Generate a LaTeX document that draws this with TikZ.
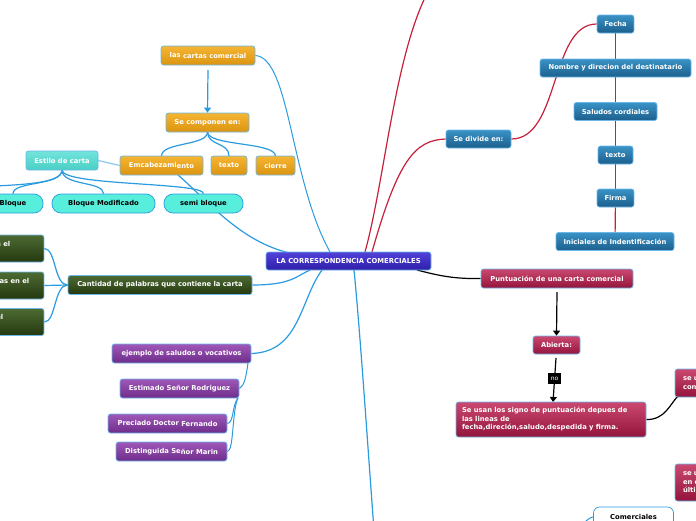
\documentclass[tikz,border=0pt]{standalone}
\usepackage{fontspec}
\setsansfont{DejaVu Sans}
\usetikzlibrary{arrows.meta}
\pgfdeclarelayer{bg}
\pgfsetlayers{bg,main}
\definecolor{orT}{HTML}{F5B533}\definecolor{orB}{HTML}{DB9410}
\definecolor{cyT}{HTML}{72E4DB}\definecolor{cyB}{HTML}{4ACFC5}
\definecolor{cyL}{HTML}{58EEDC}
\definecolor{grT}{HTML}{4E6B33}\definecolor{grB}{HTML}{24380F}
\definecolor{puT}{HTML}{A058B8}\definecolor{puB}{HTML}{6E2C8A}
\definecolor{maT}{HTML}{5242DA}\definecolor{maB}{HTML}{2E1EA8}
\definecolor{blT}{HTML}{3A92C6}\definecolor{blB}{HTML}{1B5F8C}
\definecolor{crT}{HTML}{CB4970}\definecolor{crB}{HTML}{93143C}
\definecolor{bord}{HTML}{6BB8E8}
\definecolor{lnblue}{HTML}{2B9BE0}
\definecolor{lnlight}{HTML}{8CC8EC}
\definecolor{lnred}{HTML}{C8203A}
\tikzset{
 box/.style={rounded corners=2.5pt, draw=bord, line width=0.7pt,
   font=\sffamily\bfseries\fontsize{6.8}{8.5}\selectfont, text=white,
   inner sep=0pt, minimum height=19pt, align=center},
 orangebox/.style={box, top color=orT, bottom color=orB},
 cyanbox/.style={box, top color=cyT, bottom color=cyB},
 pillbox/.style={box, rounded corners=9pt, fill=cyL, text=black, draw=lnblue},
 greenbox/.style={box, top color=grT, bottom color=grB},
 purplebox/.style={box, top color=puT, bottom color=puB},
 mainbox/.style={box, top color=maT, bottom color=maB, minimum height=18pt},
 bluebox/.style={box, top color=blT, bottom color=blB, minimum height=18pt},
 crimbox/.style={box, top color=crT, bottom color=crB},
 whitebox/.style={box, rounded corners=6pt, fill=white, text=black, draw=lnblue},
 frag/.style={font=\sffamily\bfseries\fontsize{6.8}{8.5}\selectfont, text=white, inner sep=0pt},
 bl/.style={draw=lnblue, line width=1.2pt},
 rd/.style={draw=lnred, line width=1.2pt},
 bk/.style={draw=black, line width=1.2pt},
 tip/.style={-{Triangle[width=7pt,length=5pt]}}
}
\begin{document}
\begin{tikzpicture}[x=1pt,y=-1pt]
\useasboundingbox (0,0) rectangle (696,520);
% main
\node[mainbox, minimum width=165pt] (main) at (348.5,261) {LA CORRESPONDENCIA COMERCIALES};
% orange
\node[orangebox, minimum width=94pt] (cartas) at (208,55.5) {\raisebox{1pt}{las} cartas comercial};
\node[orangebox, minimum width=83pt] (compon) at (207.5,122.5) {Se componen en:};
\node[orangebox, minimum width=83pt] (emcab) at (161.5,165.5) {Emcabezami\raisebox{-1.5pt}{ento}};
\node[orangebox, minimum width=36pt] (textoA) at (229,165.5) {texto};
\node[orangebox, minimum width=39pt] (cierre) at (275.5,165.5) {cierre};
% cyan
\node[cyanbox, minimum width=72pt] (estilo) at (62,160.5) {Estilo de carta};
\node[pillbox, minimum width=60pt] (bloque) at (13,203.5) {Bloque};
\node[pillbox, minimum width=103pt] (bmod) at (103.5,203.5) {Bloque Modificado};
\node[pillbox, minimum width=79pt] (semi) at (203.5,203.5) {semi bloque};
% green
\node[greenbox, minimum width=184pt] (cant) at (160,285) {Cantidad de palabras que contiene la carta};
\node[greenbox, minimum width=104pt, minimum height=27pt] (g1) at (-8,248.5) {};
\node[greenbox, minimum width=104pt, minimum height=27pt] (g2) at (-8,285.5) {};
\node[greenbox, minimum width=104pt, minimum height=27pt] (g3) at (-8,322) {};
\node[frag, anchor=base east] (g1t) at (10.5,246.5) {n el};
\node[frag, anchor=base east] (g2t) at (29.5,283.5) {as en el};
\node[frag, anchor=base east] (g3t) at (3.5,319) {el};
% purple
\node[purplebox, minimum width=139pt] (ejemplo) at (181.5,353.5) {ejemplo de saludos o vocativos};
\node[purplebox, minimum width=119pt] (estimado) at (179.5,388.5) {Estimado Señor Rodriguez};
\node[purplebox, minimum width=119pt] (preciado) at (167.5,423.5) {Preciado Doctor \raisebox{-1pt}{Fernando}};
\node[purplebox, minimum width=111pt] (disting) at (171.5,451.5) {Distinguida Se\raisebox{-1pt}{ñor Marin}};
% blue
\node[bluebox, minimum width=65pt] (divide) at (478.5,139) {Se divide en:};
\node[bluebox, minimum width=37pt] (fecha) at (615.5,24) {Fecha};
\node[bluebox, minimum width=151pt] (nombre) at (615.5,68) {Nombre y direcion del destinatario};
\node[bluebox, minimum width=83pt] (saludos) at (615.5,111.5) {Saludos cordiales};
\node[bluebox, minimum width=35pt] (textoB) at (615.5,155) {texto};
\node[bluebox, minimum width=37pt] (firma) at (615.5,198) {Firma};
\node[bluebox, minimum width=118pt] (inic) at (615,241.5) {Iniciales de Indentificación};
% crimson
\node[crimbox, minimum width=152pt] (punt) at (557,278.5) {Puntuación de una carta comercial};
\node[crimbox, minimum width=47pt, minimum height=18pt] (abierta) at (556.5,345) {Abierta:};
\node[crimbox, minimum width=190pt, minimum height=35pt, text width=178pt, align=left] (seusan) at (551,419.5) {Se usan los signo de puntuación depues de\\las lineas de\\fecha,direción,saludo,despedida y firma.};
\node[crimbox, minimum width=65pt, minimum height=28pt, text width=49pt, align=left] (seA) at (707.5,383) {se u\\con};
\node[crimbox, minimum width=65pt, minimum height=37pt, text width=49pt, align=left] (seB) at (707.5,482.5) {se u\\en e\\últi};
\node[whitebox, minimum width=80pt, minimum height=20pt] (comer) at (633.5,517) {Comerciales};
% label no
\node[fill=black, text=white, font=\sffamily\fontsize{6}{7}\selectfont, inner xsep=2.5pt, inner ysep=2pt, minimum height=11pt] (no) at (554.5,378.5) {no};
% coordinates
\coordinate (topR) at (430,-12);
\coordinate (botB) at (374,530);
\coordinate (leftE) at (-30,187);
\coordinate (comin) at (584,523);
\begin{pgfonlayer}{bg}
% blue connectors
\draw[bl, line width=1pt] (cartas.east) .. controls (290,58) and (290,180) .. (330,252);
\draw[bl, tip] (208,70) -- (compon.north);
\draw[bl] (207.5,132) .. controls (207.5,146) and (161.5,142) .. (161.5,156);
\draw[bl] (207.5,132) .. controls (207.5,146) and (229,142) .. (229,156);
\draw[bl] (207.5,132) .. controls (207.5,146) and (275.5,142) .. (275.5,156);
\draw[draw=lnlight, line width=1.2pt] (estilo.east) -- (emcab.west);
\draw[bl] (178,175) .. controls (205,198) and (240,242) .. (290,253);
\draw[bl] (62,170) .. controls (62,184) and (20,185) .. (leftE);
\draw[bl] (62,170) .. controls (62,186) and (13,181) .. (bloque.north);
\draw[bl] (62,170) .. controls (62,186) and (103.5,181) .. (bmod.north);
\draw[bl] (62,170) .. controls (62,186) and (203.5,182) .. (semi.north);
\draw[bl] (cant.west) .. controls (54,285) and (56,248.5) .. (g1.east);
\draw[bl] (cant.west) -- (g2.east);
\draw[bl] (cant.west) .. controls (54,285) and (56,322) .. (g3.east);
\draw[bl] (cant.east) .. controls (290,285) and (295,277) .. (310,270);
\draw[bl] (ejemplo.east) .. controls (300,352) and (300,300) .. (322,270);
\draw[bl] (354,270) .. controls (360,330) and (368,450) .. (botB);
\draw[bl, line width=1pt] (248,363) .. controls (246,378) and (244,386) .. (estimado.east);
\draw[bl, line width=1pt] (238,398) .. controls (232,405) and (234,423) .. (preciado.east);
\draw[bl, line width=1pt] (238,398) .. controls (232,410) and (234,451) .. (disting.east);
\draw[bl, line width=1pt] (comin) .. controls (588,519) and (591,517) .. (comer.west);
% red connectors
\draw[rd] (365,252) .. controls (385,180) and (395,50) .. (topR);
\draw[rd] (372,252) .. controls (398,160) and (415,140) .. (divide.west);
\draw[rd] (divide.east) .. controls (560,139) and (550,24) .. (fecha.west);
\draw[rd] (fecha) -- (nombre);
\draw[rd] (nombre) -- (saludos);
\draw[rd] (saludos) -- (textoB);
\draw[rd] (textoB) -- (firma);
\draw[rd] (firma) -- (inic);
% black connectors
\draw[bk] (417,270) .. controls (440,276) and (455,279) .. (punt.west);
\draw[bk, tip] (557,292) -- (abierta.north);
\draw[bk, tip] (556,358) -- (553,402);
\draw[bk] (seusan.east) .. controls (665,420) and (670,404) .. (678,396);
\end{pgfonlayer}
\end{tikzpicture}
\end{document}
